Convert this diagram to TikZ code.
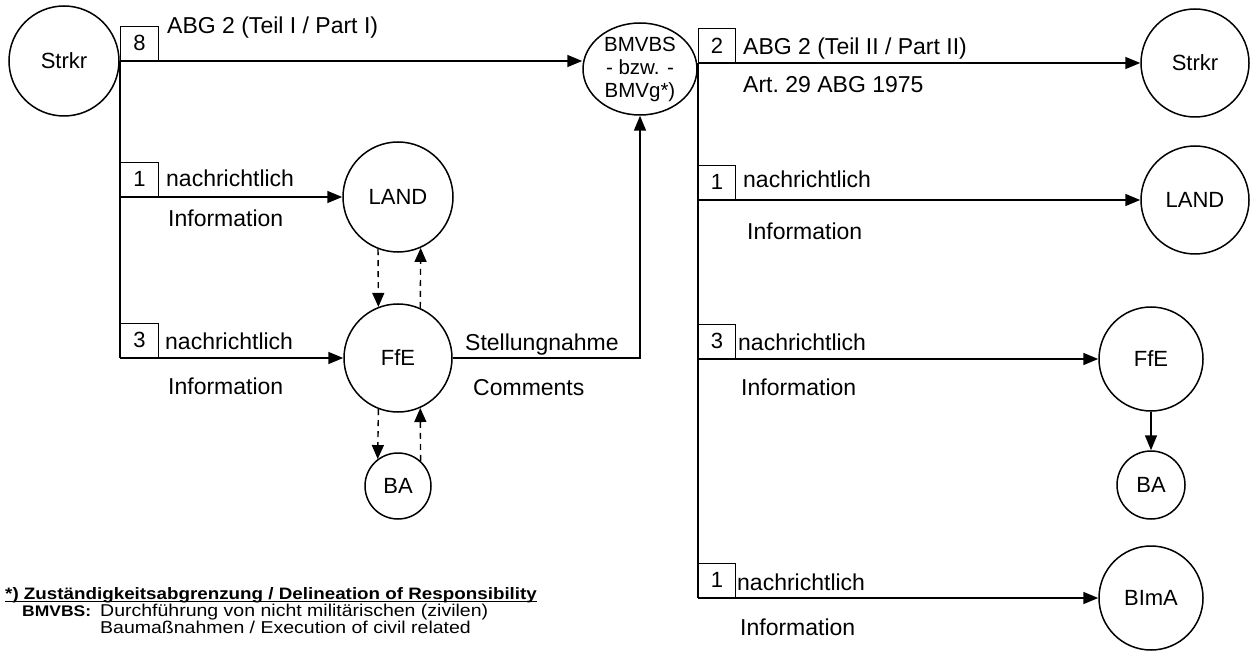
\documentclass[tikz,border=0pt]{standalone}
\usepackage{fontspec}
\setmainfont{Liberation Sans}
\usetikzlibrary{arrows.meta,shapes.geometric}
\newcommand{\fnsq}[1]{\scalebox{1}[0.88]{#1}}
\begin{document}
\begin{tikzpicture}[x=1pt,y=-1pt,
  every node/.style={font=\fontsize{23}{27}\selectfont},
  nd/.style={draw,circle,line width=1.5pt,inner sep=0pt,font=\fontsize{22}{26}\selectfont},
  num/.style={draw,rectangle,line width=1.3pt,minimum width=38pt,minimum height=34pt,inner sep=0pt,anchor=south west,font=\fontsize{22}{26}\selectfont},
  lbl/.style={anchor=base west,inner sep=0pt},
  fnt/.style={lbl,font=\fontsize{19.5}{22}\selectfont},
  fnb/.style={lbl,font=\bfseries\fontsize{18.8}{22}\selectfont},
  conn/.style={line width=1.6pt},
  arr/.style={conn,-{Triangle[length=15pt,width=12pt]}},
  darr/.style={line width=1.4pt,dash pattern=on 6pt off 5pt,-{Triangle[length=14pt,width=12pt]}},
]
\useasboundingbox (0,0) rectangle (1252,652);

% nodes
\node[nd,minimum size=110pt] (strkrL) at (64,61) {Strkr};
\node[nd,ellipse,minimum width=114pt,minimum height=92pt,align=center,font=\fontsize{20.5}{23}\selectfont] (bm) at (640,69) {BMVBS\\- bzw. -\\BMVg*)};
\node[nd,minimum size=110pt] (landL) at (398,197) {LAND};
\node[nd,minimum size=108pt] (ffeL) at (398,358) {FfE};
\node[nd,minimum size=66pt] (baL) at (398,486) {BA};
\node[nd,minimum size=108pt] (strkrR) at (1195,63) {Strkr};
\node[nd,minimum size=108pt] (landR) at (1195,200) {LAND};
\node[nd,minimum size=104pt] (ffeR) at (1151,359) {FfE};
\node[nd,minimum size=68pt] (baR) at (1151,485) {BA};
\node[nd,minimum size=104pt] (bima) at (1151,598) {BImA};

% left connectors
\draw[conn] (strkrL.east) -- (strkrL.east |- ffeL.west);
\draw[arr] (strkrL.east) -- (strkrL.east -| bm.west);
\draw[arr] (strkrL.east |- landL.west) -- (landL.west);
\draw[arr] (strkrL.east |- ffeL.west) -- (ffeL.west);
\node[num] (b8) at (strkrL.east) {8};
\node[num] (b1L) at (strkrL.east |- landL.west) {1};
\node[num] (b3L) at (strkrL.east |- ffeL.west) {3};

\draw[darr] (landL.249) -- (ffeL.111);
\draw[darr] (ffeL.66) -- (landL.294);
\draw[darr] (ffeL.249) -- (baL.127);
\draw[darr] (baL.48) -- (ffeL.294);

\draw[arr] (ffeL.east) -- (ffeL.east -| bm.south) -- (bm.south);

% right connectors
\coordinate (rt) at (bm.east |- strkrR.west);
\draw[conn] (rt) -- (rt |- bima.west);
\draw[arr] (rt) -- (strkrR.west);
\draw[arr] (rt |- landR.west) -- (landR.west);
\draw[arr] (rt |- ffeR.west) -- (ffeR.west);
\draw[arr] (rt |- bima.west) -- (bima.west);
\draw[arr] (ffeR.south) -- (baR.north);
\node[num,minimum width=37pt] (b2R) at (rt) {2};
\node[num,minimum width=37pt] (b1R) at (rt |- landR.west) {1};
\node[num,minimum width=37pt] (b3R) at (rt |- ffeR.west) {3};
\node[num,minimum width=37pt] (b1bR) at (rt |- bima.west) {1};

% labels
\node[lbl] (t8) at (167,34) {ABG 2 (Teil I / Part I)};
\node[lbl] (n1L) at (166,187) {nachrichtlich};
\node[lbl] (i1L) at (168,227) {Information};
\node[lbl] (n3L) at (165,349) {nachrichtlich};
\node[lbl] (i3L) at (168,394) {Information};
\node[lbl] (st) at (465,350) {Stellungnahme};
\node[lbl] (cm) at (473,395) {Comments};
\node[lbl] (t2) at (743,55) {ABG 2 (Teil II / Part II)};
\node[lbl] (art) at (743,93) {Art.\ 29 ABG 1975};
\node[lbl] (n1R) at (743,188) {nachrichtlich};
\node[lbl] (i1R) at (747,240) {Information};
\node[lbl] (n3R) at (738,350) {nachrichtlich};
\node[lbl] (i3R) at (741,395) {Information};
\node[lbl] (n1bR) at (737,590) {nachrichtlich};
\node[lbl] (i1bR) at (740,635) {Information};

% footnote
\node[fnb] (fn) at (5,599) {\fnsq{*) Zuständigkeitsabgrenzung / Delineation of Responsibility}};
\draw[line width=1.2pt] ([yshift=-2.5pt]fn.base west) -- ([yshift=-2.5pt]fn.base east);
\node[fnb,font=\bfseries\fontsize{17.5}{22}\selectfont] (fnbm) at (22,616) {\fnsq{BMVBS:}};
\node[fnt] (fn1) at (100,616) {\fnsq{Durchführung von nicht militärischen (zivilen)}};
\node[fnt] (fn2) at (100,633) {\fnsq{Baumaßnahmen / Execution of civil related}};
\end{tikzpicture}
\end{document}
